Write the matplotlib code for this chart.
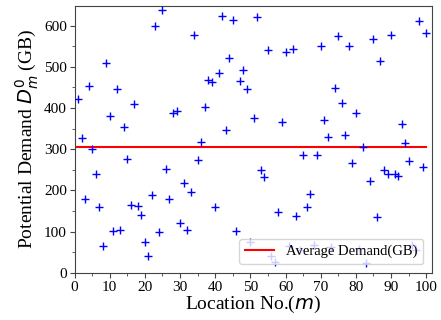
import matplotlib
matplotlib.use("Agg")
import matplotlib.pyplot as plt
import numpy as np

# potential demand per location (GB)
location = np.arange(1, 101)
demand = [423, 328, 179, 453, 301, 241, 159, 65, 509, 380,
          101, 446, 104, 354, 277, 166, 410, 162, 141, 75,
          42, 190, 600, 100, 637, 251, 179, 389, 393, 122,
          219, 105, 197, 577, 275, 318, 403, 469, 463, 159,
          484, 623, 346, 521, 613, 101, 465, 491, 445, 74,
          375, 621, 249, 232, 540, 40, 26, 149, 367, 537,
          66, 543, 139, 55, 287, 161, 191, 68, 286, 550,
          370, 330, 64, 449, 575, 413, 335, 551, 266, 389,
          59, 305, 23, 224, 568, 136, 513, 250, 241, 578,
          239, 235, 362, 314, 271, 68, 55, 611, 258, 581]

avg = np.mean(demand)

plt.rcParams['font.family'] = ['Liberation Serif', 'DejaVu Sans']

fig = plt.figure(figsize=(4.41, 3.2), dpi=100)
ax = fig.add_axes([0.169, 0.147, 0.811, 0.835])

ax.scatter(location, demand, marker='+', color='blue', s=40, linewidths=1.0, zorder=3)
ax.plot([0, location[-1]], [avg, avg], color='red', lw=1.5, label='Average Demand(GB)', zorder=2)

ax.set_xlim(0, 101.7)
ax.set_ylim(0, 648)
ax.set_xticks(np.arange(0, 101, 10))
ax.set_yticks(np.arange(0, 601, 100))
ax.set_xticks(np.arange(5, 101, 10), minor=True)
ax.set_yticks(np.arange(50, 601, 100), minor=True)
ax.tick_params(axis='both', which='major', labelsize=11, length=3.5, color='#444444', pad=2)
ax.tick_params(axis='both', which='minor', length=2, color='#444444')
for s in ax.spines.values():
    s.set_color('#444444')

ax.set_xlabel('Location No.($m$)', fontsize=14, labelpad=0)
ax.set_ylabel('Potential Demand $D_m^0$ (GB)', fontsize=14, labelpad=2)

ax.legend(loc='lower right', fontsize=10.5, borderaxespad=0.6)

fig.savefig('out.png', dpi=100)
